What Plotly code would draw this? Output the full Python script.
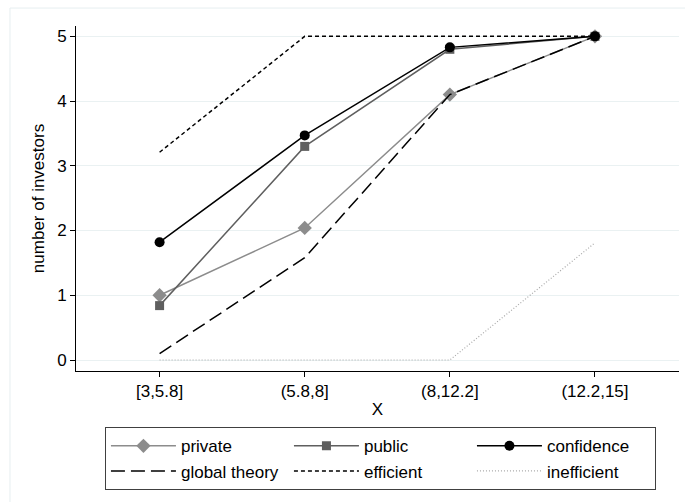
import plotly.graph_objects as go

categories = ["[3,5.8]", "(5.8,8]", "(8,12.2]", "(12.2,15]"]
private = [1.0, 2.04, 4.10, 5.0]
public = [0.84, 3.30, 4.80, 5.0]
confidence = [1.82, 3.47, 4.83, 5.0]
global_theory = [0.10, 1.58, 4.10, 5.0]
efficient = [3.21, 5.0, 5.0, 5.0]
inefficient = [0.0, 0.0, 0.0, 1.81]
y_ticks = [0, 1, 2, 3, 4, 5]

FONT = "Liberation Sans, Arial, sans-serif"

fig = go.Figure()
fig.add_trace(go.Scatter(x=categories, y=private, name="private", mode="lines+markers",
                         line=dict(color="#8c8c8c", width=1.5),
                         marker=dict(symbol="diamond", size=11, color="#8c8c8c")))
fig.add_trace(go.Scatter(x=categories, y=public, name="public", mode="lines+markers",
                         line=dict(color="#5f5f5f", width=1.5),
                         marker=dict(symbol="square", size=9, color="#5f5f5f")))
fig.add_trace(go.Scatter(x=categories, y=confidence, name="confidence", mode="lines+markers",
                         line=dict(color="#000000", width=1.5),
                         marker=dict(symbol="circle", size=10, color="#000000")))
fig.add_trace(go.Scatter(x=categories, y=global_theory, name="global theory", mode="lines",
                         line=dict(color="#000000", width=1.5, dash="14px,6px")))
fig.add_trace(go.Scatter(x=categories, y=efficient, name="efficient", mode="lines",
                         line=dict(color="#000000", width=1.5, dash="4px,3px")))
fig.add_trace(go.Scatter(x=categories, y=inefficient, name="inefficient", mode="lines",
                         line=dict(color="#a8a8a8", width=1.2, dash="1px,2px")))

fig.update_layout(
    width=685, height=502,
    margin=dict(l=76, r=6, t=26, b=131, autoexpand=False),
    paper_bgcolor="white", plot_bgcolor="white",
    font=dict(family=FONT, size=17, color="#000000"),
    showlegend=True,
    legend=dict(orientation="h", x=0.048, xanchor="left", y=-0.163, yanchor="top",
                bordercolor="#404040", borderwidth=1, itemwidth=65, entrywidth=103,
                font=dict(family=FONT, size=17, color="#000000"),
                bgcolor="white", traceorder="normal", tracegroupgap=0),
    shapes=[dict(type="rect", xref="paper", yref="paper",
                 x0=-0.1095, x1=1.2, y0=-0.6, y1=1.052,
                 line=dict(color="#e6eef0", width=1), layer="below")],
)
fig.update_xaxes(
    type="category", categoryorder="array", categoryarray=categories,
    range=[-0.576, 3.579], showgrid=False, zeroline=False,
    showline=True, linecolor="#000000", linewidth=1,
    ticks="outside", ticklen=5, tickcolor="#000000",
    tickfont=dict(size=17),
    title=dict(text="X", font=dict(size=17), standoff=2),
)
fig.update_yaxes(
    range=[-0.17, 5.16], tickvals=y_ticks, ticktext=[str(v) for v in y_ticks],
    showgrid=True, gridcolor="#eaf1f2", gridwidth=1, zeroline=False,
    showline=True, linecolor="#000000", linewidth=1,
    ticks="outside", ticklen=5, tickcolor="#000000",
    tickfont=dict(size=17),
    title=dict(text="number of investors", font=dict(size=17), standoff=8),
)

fig.write_html("out.html")
